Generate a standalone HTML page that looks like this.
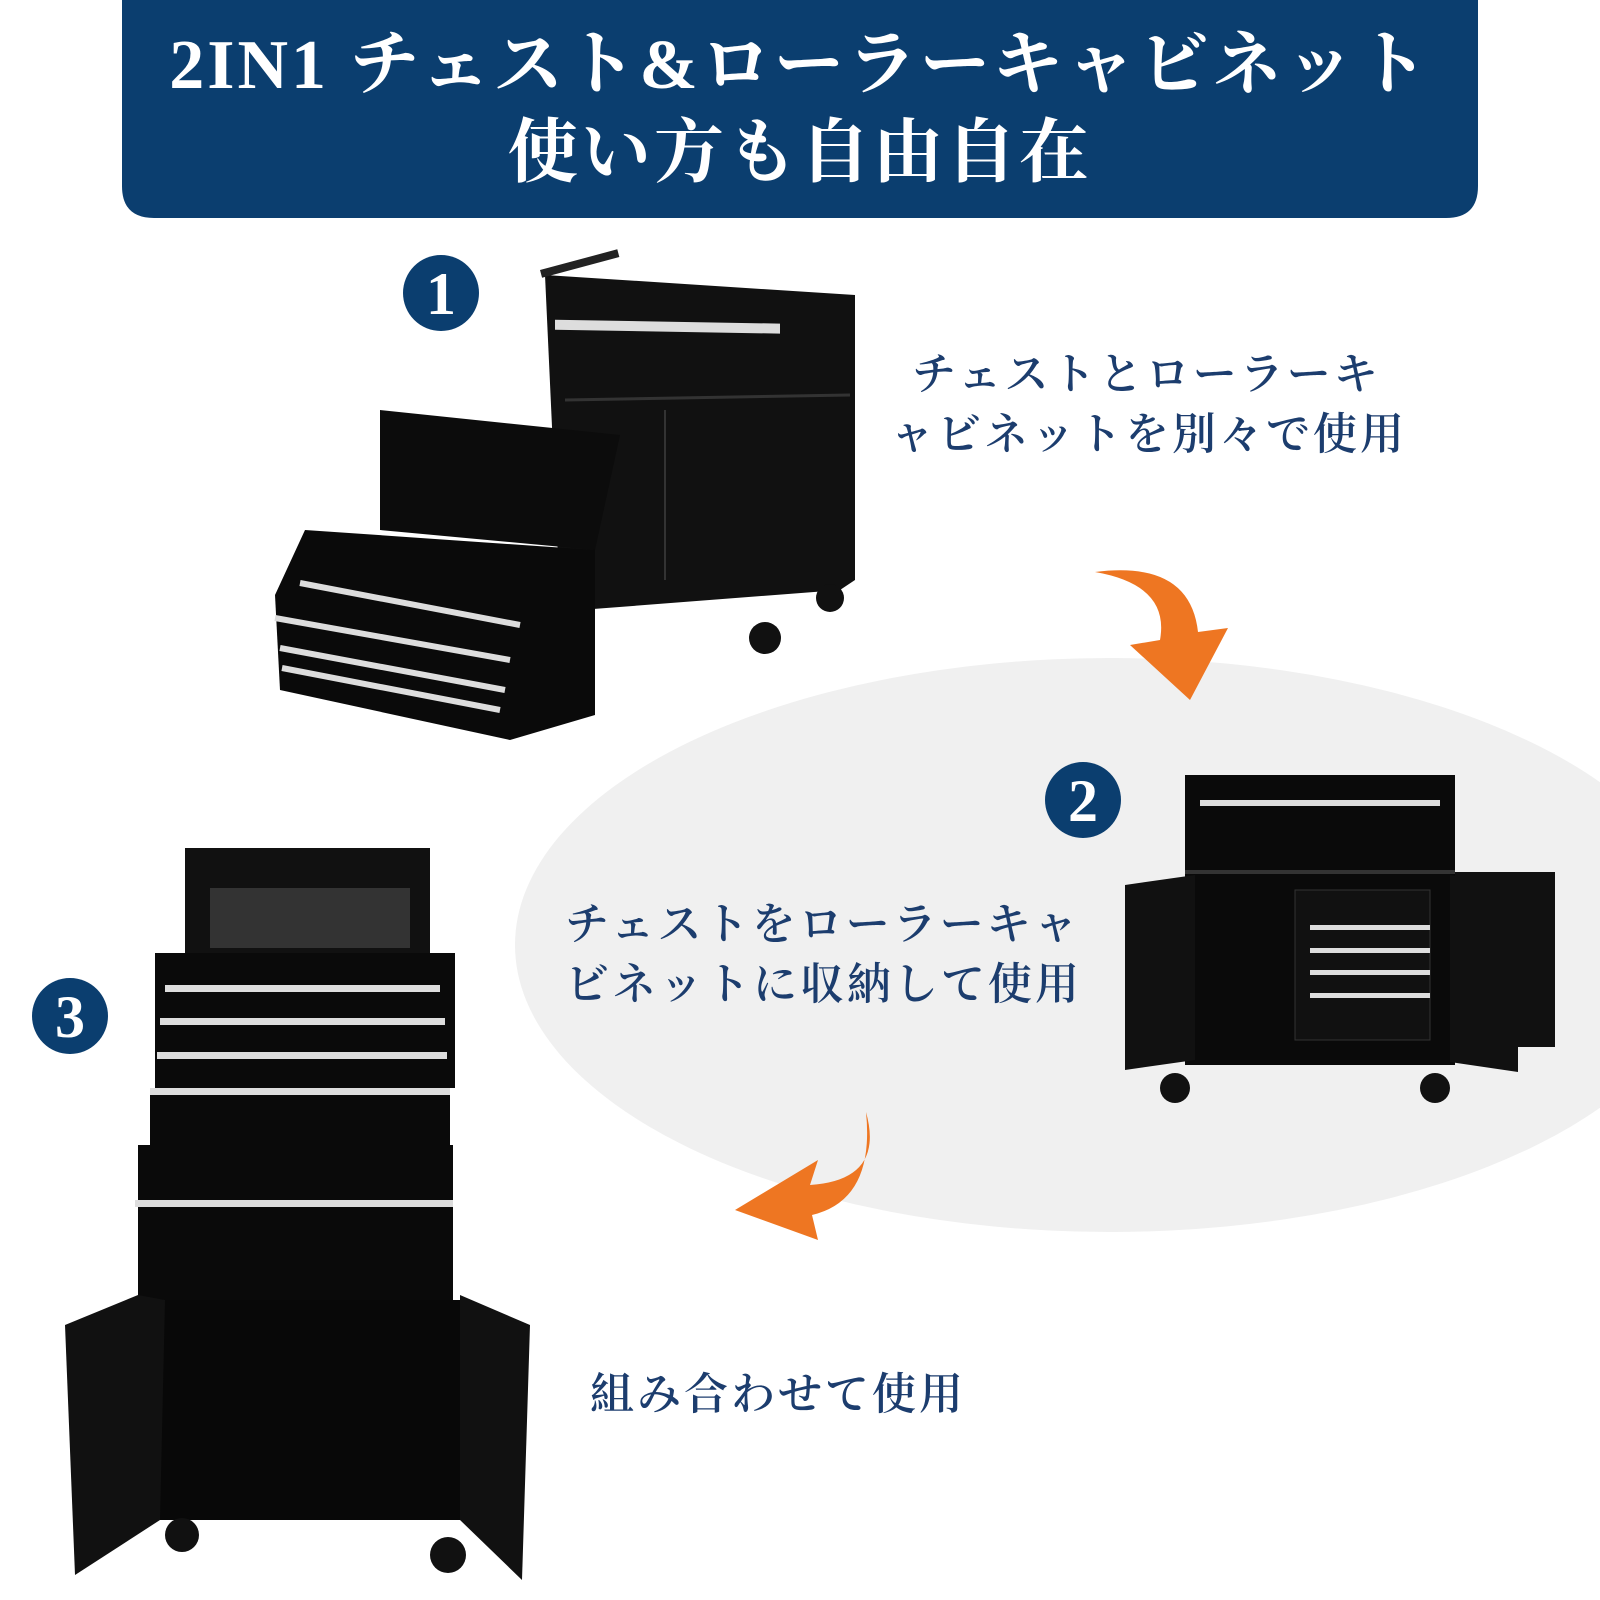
<!DOCTYPE html>
<html><head><meta charset="utf-8"><style>
html,body{margin:0;padding:0;background:#fff;}
body{width:1600px;height:1600px;position:relative;overflow:hidden;font-family:"Liberation Serif","Noto Serif CJK SC",serif;}
.t{position:absolute;color:#1c3d6e;font-size:44px;letter-spacing:3px;white-space:nowrap;font-weight:600;line-height:60px;font-family:"Liberation Serif","Noto Serif CJK SC",serif;}
</style></head><body>
<svg width="1600" height="1600" style="position:absolute;left:0;top:0">
<ellipse cx="1110" cy="945" rx="595" ry="287" fill="#f0f0f0"/>
<path d="M122,0 H1478 V186 Q1478,218 1446,218 H154 Q122,218 122,186 Z" fill="#0b3e6f"/>
<path d="M1095,572 Q1170,585 1160,640 L1130,645 L1190,700 L1228,628 L1198,632 Q1190,560 1095,572 Z" fill="#ee7622"/>
<path d="M866,1112 Q885,1180 810,1185 L818,1160 L735,1210 L818,1240 L812,1215 Q875,1200 866,1112 Z" fill="#ee7622"/>
<circle cx="441" cy="293" r="38" fill="#0b3e6f"/>
<circle cx="1083" cy="800" r="38" fill="#0b3e6f"/>
<circle cx="70" cy="1016" r="38" fill="#0b3e6f"/>
<g font-family="Liberation Serif,serif" font-weight="bold" font-size="60" fill="#fff" text-anchor="middle">
<text x="441" y="314">1</text><text x="1083" y="821">2</text><text x="70" y="1037">3</text></g>
<g>
<path d="M545,275 L855,295 L855,580 L840,590 L580,610 L560,600 Z" fill="#111"/>
<rect x="555" y="310" width="225" height="10" fill="#ddd" transform="skewY(1)"/>
<rect x="540" y="270" width="80" height="8" fill="#222" transform="rotate(-15 540 270)"/>
<line x1="565" y1="400" x2="850" y2="395" stroke="#333" stroke-width="3"/>
<line x1="665" y1="410" x2="665" y2="580" stroke="#333" stroke-width="2"/>
<circle cx="765" cy="638" r="16" fill="#111"/><circle cx="830" cy="598" r="14" fill="#111"/>
<path d="M380,410 L620,435 L595,550 L380,530 Z" fill="#0c0c0c"/>
<path d="M305,530 L595,550 L595,715 L510,740 L280,690 L275,595 Z" fill="#0a0a0a"/>
<g stroke="#ddd" stroke-width="6"><line x1="300" y1="583" x2="520" y2="625"/><line x1="275" y1="618" x2="510" y2="660"/><line x1="280" y1="648" x2="505" y2="690"/><line x1="282" y1="668" x2="500" y2="710"/></g>
</g>
<g>
<rect x="1185" y="775" width="270" height="290" fill="#0a0a0a"/>
<rect x="1200" y="800" width="240" height="6" fill="#ddd"/>
<rect x="1185" y="870" width="270" height="4" fill="#333"/>
<path d="M1125,885 L1195,875 L1195,1060 L1125,1070 Z" fill="#111"/>
<path d="M1450,875 L1518,885 L1518,1072 L1450,1062 Z" fill="#111"/>
<rect x="1455" y="872" width="100" height="175" fill="#111"/>
<rect x="1295" y="890" width="135" height="150" fill="#111" stroke="#333"/>
<g fill="#ddd"><rect x="1310" y="925" width="120" height="5"/><rect x="1310" y="948" width="120" height="5"/><rect x="1310" y="970" width="120" height="5"/><rect x="1310" y="993" width="120" height="5"/></g>
<circle cx="1175" cy="1088" r="15" fill="#111"/><circle cx="1435" cy="1088" r="15" fill="#111"/>
</g>
<g>
<rect x="185" y="848" width="245" height="105" fill="#111"/>
<rect x="210" y="888" width="200" height="60" fill="#333"/>
<rect x="155" y="953" width="300" height="135" fill="#0a0a0a"/>
<g fill="#ddd"><rect x="165" y="985" width="275" height="7"/><rect x="160" y="1018" width="285" height="7"/><rect x="157" y="1052" width="290" height="7"/><rect x="150" y="1088" width="300" height="7"/></g>
<rect x="150" y="1095" width="300" height="50" fill="#0a0a0a"/>
<rect x="138" y="1145" width="315" height="155" fill="#0a0a0a"/>
<rect x="135" y="1200" width="318" height="7" fill="#ddd"/>
<rect x="160" y="1300" width="300" height="220" fill="#080808"/>
<path d="M65,1325 L138,1295 L165,1300 L160,1520 L75,1575 Z" fill="#111"/>
<path d="M460,1295 L530,1325 L522,1580 L460,1520 Z" fill="#111"/>
<circle cx="182" cy="1535" r="17" fill="#111"/><circle cx="448" cy="1555" r="18" fill="#111"/>
</g>
</svg>
<div style="position:absolute;left:122px;width:1356px;top:22px;text-align:center;color:#fff;font-weight:bold;font-size:70px;letter-spacing:3px;line-height:88px;font-family:'Liberation Serif','Noto Serif CJK SC',serif;white-space:nowrap">2IN1 チェスト&amp;ローラーキャビネット<br>使い方も自由自在</div>
<div class="t" style="left:912px;top:345px">チェストとローラーキ</div>
<div class="t" style="left:890px;top:405px">ャビネットを別々で使用</div>
<div class="t" style="left:565px;top:895px">チェストをローラーキャ</div>
<div class="t" style="left:565px;top:955px">ビネットに収納して使用</div>
<div class="t" style="left:590px;top:1365px">組み合わせて使用</div>
</body></html>
